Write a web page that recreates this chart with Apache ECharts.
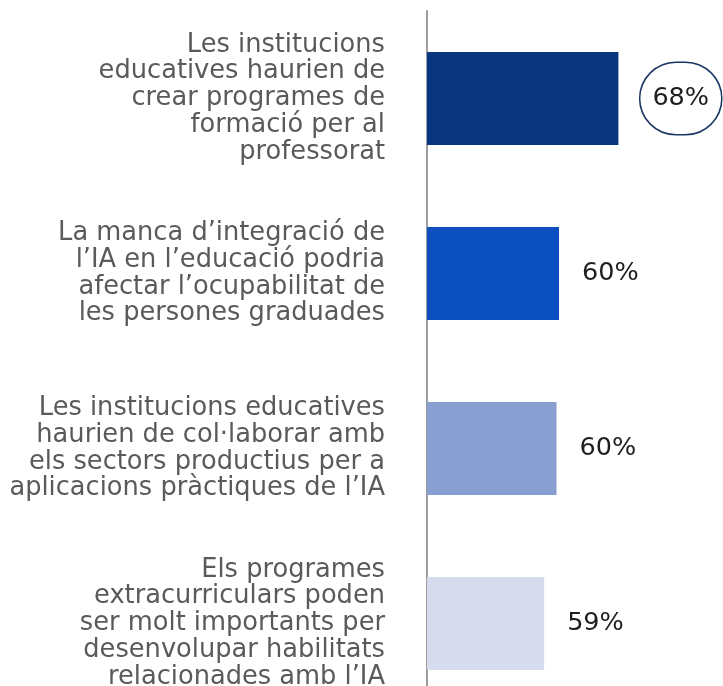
<!DOCTYPE html>
<html>
<head>
<meta charset="utf-8">
<script src="https://cdn.jsdelivr.net/npm/echarts@6/dist/echarts.min.js"></script>
<style>
html,body{margin:0;padding:0;background:#fff;}
#chart{width:723px;height:686px;}
</style>
</head>
<body>
<div id="chart"></div>
<script>
const categories = [
  "Les institucions\neducatives haurien de\ncrear programes de\nformació per al\nprofessorat",
  "La manca d’integració de\nl’IA en l’educació podria\nafectar l’ocupabilitat de\nles persones graduades",
  "Les institucions educatives\nhaurien de col·laborar amb\nels sectors productius per a\naplicacions pràctiques de l’IA",
  "Els programes\nextracurriculars poden\nser molt importants per\ndesenvolupar habilitats\nrelacionades amb l’IA"
];
const values = [67.6, 60.4, 60.1, 58.6];
const valueLabels = ["68%", "60%", "60%", "59%"];
const barColors = ["#0a3680", "#0b4fc0", "#8a9fd1", "#d6dbed"];

const chart = echarts.init(document.getElementById('chart'), null, {renderer: 'canvas'});
chart.setOption({
  animation: false,
  grid: {left: 427, top: 11, width: 293.7, height: 700, containLabel: false, outerBoundsMode: 'none'},
  xAxis: {
    type: 'value', min: 44.4, max: 80, show: false
  },
  yAxis: {
    type: 'category',
    inverse: true,
    data: categories,
    axisLine: {show: true, lineStyle: {color: '#9c9c9c', width: 2}},
    axisTick: {show: false},
    axisLabel: {
      margin: 42,
      fontFamily: 'DejaVu Sans',
      fontSize: 25.7,
      lineHeight: 26.8,
      color: '#5a5a5a',
      align: 'right'
    }
  },
  series: [{
    type: 'bar',
    barWidth: 93,
    data: values.map((v, i) => ({
      value: v,
      itemStyle: {color: barColors[i]},
      label: i === 0 ? {
        show: true,
        position: 'right',
        distance: 22,
        formatter: valueLabels[i],
        fontFamily: 'DejaVu Sans',
        fontSize: 25.5,
        color: '#1e1e1e',
        borderColor: '#1c3562',
        borderWidth: 1.5,
        borderRadius: 36,
        padding: [23, 12, 22, 12],
        backgroundColor: '#fff'
      } : {
        show: true,
        position: 'right',
        distance: 23,
        formatter: valueLabels[i],
        fontFamily: 'DejaVu Sans',
        fontSize: 25.5,
        color: '#1e1e1e'
      }
    }))
  }]
});
</script>
</body>
</html>
